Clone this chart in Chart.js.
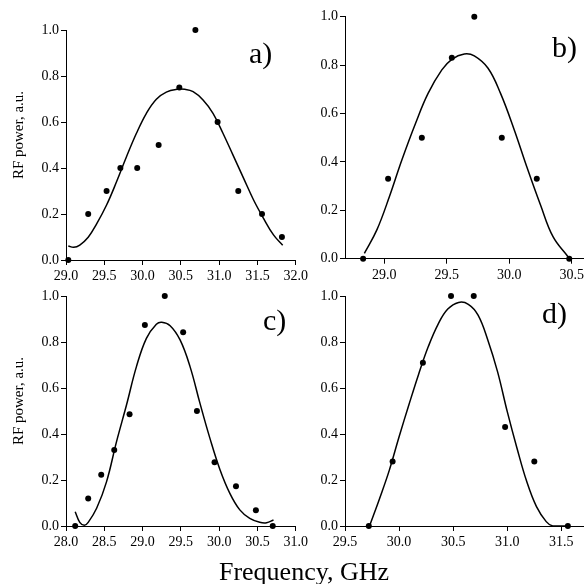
<!DOCTYPE html>
<html>
<head>
<meta charset="utf-8">
<script src="https://cdn.jsdelivr.net/npm/chart.js@4.4.1/dist/chart.umd.min.js"></script>
<style>
  html, body { margin: 0; padding: 0; background: #fff; overflow: hidden; }
  #wrap { position: relative; width: 587px; height: 584px; }
  #wrap canvas { position: absolute; left: 0; top: 0; }
</style>
</head>
<body>
<div id="wrap">
  <canvas id="chartA" width="587" height="584"></canvas>
  <canvas id="chartB" width="587" height="584"></canvas>
  <canvas id="chartC" width="587" height="584"></canvas>
  <canvas id="chartD" width="587" height="584"></canvas>
</div>
<script>
// measured points, panel a)
const freqA = [29.03, 29.29, 29.53, 29.71, 29.93, 30.21, 30.48, 30.69, 30.98, 31.25, 31.56, 31.82];
const powerA = [0.0, 0.2, 0.3, 0.4, 0.4, 0.5, 0.75, 1.0, 0.6, 0.3, 0.2, 0.1];
// fitted curve, panel a)
const fitFreqA = [29.03, 29.10, 29.18, 29.29, 29.40, 29.53, 29.66, 29.79, 29.92, 30.05, 30.18, 30.31, 30.45, 30.55, 30.66, 30.79, 30.92, 31.05, 31.18, 31.32, 31.45, 31.58, 31.71, 31.83];
const fitPowerA = [0.061, 0.055, 0.065, 0.099, 0.157, 0.239, 0.34, 0.449, 0.551, 0.638, 0.699, 0.73, 0.742, 0.742, 0.732, 0.696, 0.638, 0.551, 0.457, 0.355, 0.261, 0.181, 0.109, 0.064];

// panel b)
const freqB = [28.83, 29.03, 29.30, 29.54, 29.72, 29.94, 30.22, 30.48];
const powerB = [0.0, 0.33, 0.5, 0.83, 1.0, 0.5, 0.33, 0.0];
const fitFreqB = [28.84, 28.94, 29.04, 29.14, 29.25, 29.35, 29.46, 29.54, 29.64, 29.72, 29.83, 29.93, 30.04, 30.14, 30.25, 30.35, 30.47];
const fitPowerB = [0.022, 0.119, 0.256, 0.408, 0.56, 0.683, 0.78, 0.824, 0.846, 0.838, 0.787, 0.683, 0.532, 0.38, 0.222, 0.091, 0.008];

// panel c)
const freqC = [28.12, 28.29, 28.46, 28.63, 28.83, 29.03, 29.29, 29.53, 29.71, 29.94, 30.22, 30.48, 30.70];
const powerC = [0.0, 0.12, 0.223, 0.33, 0.486, 0.874, 1.0, 0.842, 0.5, 0.277, 0.173, 0.068, 0.0];
const fitFreqC = [28.12, 28.18, 28.24, 28.29, 28.40, 28.53, 28.66, 28.79, 28.92, 29.05, 29.18, 29.25, 29.36, 29.49, 29.62, 29.75, 29.88, 30.01, 30.14, 30.27, 30.40, 30.53, 30.62, 30.71];
const fitPowerC = [0.062, 0.016, 0.003, 0.016, 0.077, 0.193, 0.367, 0.526, 0.693, 0.816, 0.877, 0.886, 0.871, 0.809, 0.693, 0.533, 0.381, 0.246, 0.142, 0.07, 0.033, 0.016, 0.014, 0.026];

// panel d)
const freqD = [29.72, 29.94, 30.22, 30.48, 30.69, 30.98, 31.25, 31.56];
const powerD = [0.0, 0.28, 0.71, 1.0, 1.0, 0.43, 0.28, 0.0];
const fitFreqD = [29.73, 29.82, 29.91, 30.00, 30.09, 30.18, 30.27, 30.36, 30.45, 30.55, 30.64, 30.73, 30.82, 30.91, 31.00, 31.09, 31.18, 31.27, 31.36, 31.42, 31.55];
const fitPowerD = [0.004, 0.12, 0.243, 0.388, 0.526, 0.659, 0.78, 0.877, 0.943, 0.972, 0.964, 0.917, 0.809, 0.671, 0.497, 0.338, 0.193, 0.084, 0.019, 0.0, 0.0];

const yTicks = [0, 0.2, 0.4, 0.6, 0.8, 1.0];
const yTitle = 'RF power, a.u.';
const xTitle = 'Frequency, GHz';

const FONT = '"Liberation Serif", "Times New Roman", serif';

// draws free text (panel letters, axis titles) onto a chart
const panelText = {
    id: 'panelText',
    afterDraw(chart, args, opts) {
        const ctx = chart.ctx;
        (opts.items || []).forEach(item => {
            ctx.save();
            ctx.font = `${item.size}px ${FONT}`;
            ctx.fillStyle = '#000';
            ctx.textAlign = item.align || 'left';
            ctx.textBaseline = item.baseline || 'alphabetic';
            ctx.translate(item.x, item.y);
            if (item.rotate) {
                ctx.rotate(item.rotate);
            }
            ctx.fillText(item.text, 0, 0);
            ctx.restore();
        });
    }
};

const PanelCharts = {
    canvasW: 587,
    canvasH: 584,
    yAxisW: 40,
    xAxisH: 30,

    toPoints(xs, ys) {
        return xs.map((x, i) => ({ x: x, y: ys[i] }));
    },

    /**
     * @param {string} chartId
     * @param {Object} cfg  data arrays, axis range, plot area and texts
     * @returns {Chart}
     */
    createPanel(chartId, cfg) {
        const ctx = document.getElementById(chartId).getContext('2d');
        const area = cfg.area;
        const self = this;

        return new Chart(ctx, {
            type: 'scatter',
            data: {
                datasets: [{
                    data: this.toPoints(cfg.freq, cfg.power),
                    showLine: false,
                    pointRadius: 3,
                    pointBackgroundColor: '#000',
                    pointBorderWidth: 0,
                    clip: false
                }, {
                    data: this.toPoints(cfg.fitFreq, cfg.fitPower),
                    showLine: true,
                    pointRadius: 0,
                    borderColor: '#000',
                    borderWidth: 1.5,
                    tension: 0.4,
                    clip: false
                }]
            },
            options: {
                responsive: false,
                animation: false,
                events: [],
                layout: {
                    padding: {
                        left: area.left - self.yAxisW,
                        right: self.canvasW - area.right,
                        top: area.top,
                        bottom: self.canvasH - self.xAxisH - area.bottom
                    }
                },
                plugins: {
                    legend: { display: false },
                    tooltip: { enabled: false },
                    panelText: { items: cfg.texts }
                },
                scales: {
                    x: {
                        type: 'linear',
                        min: cfg.xMin,
                        max: cfg.xMax,
                        ticks: {
                            stepSize: 0.5,
                            includeBounds: false,
                            autoSkip: false,
                            maxRotation: 0,
                            padding: 3,
                            color: '#000',
                            font: { family: FONT, size: 14 },
                            callback: v => v.toFixed(1)
                        },
                        grid: {
                            drawOnChartArea: false,
                            drawTicks: true,
                            tickLength: 5,
                            color: '#000',
                            lineWidth: 1
                        },
                        border: { display: true, color: '#000', width: 1 },
                        afterFit(scale) {
                            scale.height = self.xAxisH;
                            scale.paddingLeft = 0;
                            scale.paddingRight = 0;
                        }
                    },
                    y: {
                        type: 'linear',
                        min: yTicks[0],
                        max: yTicks[yTicks.length - 1],
                        afterBuildTicks(scale) {
                            scale.ticks = yTicks.map(v => ({ value: v }));
                        },
                        ticks: {
                            padding: 2,
                            color: '#000',
                            font: { family: FONT, size: 14 },
                            callback: v => v.toFixed(1)
                        },
                        grid: {
                            drawOnChartArea: false,
                            drawTicks: true,
                            tickLength: 5,
                            color: '#000',
                            lineWidth: 1
                        },
                        border: { display: true, color: '#000', width: 1 },
                        afterFit(scale) {
                            scale.width = self.yAxisW;
                            scale.paddingTop = 0;
                            scale.paddingBottom = 0;
                        }
                    }
                }
            },
            plugins: [panelText]
        });
    }
};

const letterSize = 30;

PanelCharts.createPanel('chartA', {
    freq: freqA, power: powerA, fitFreq: fitFreqA, fitPower: fitPowerA,
    xMin: 29.0, xMax: 32.0,
    area: { left: 66, right: 295.7, top: 30, bottom: 260 },
    texts: [
        { text: 'a)', x: 249, y: 63, size: letterSize },
        { text: yTitle, x: 19, y: 135, size: 15, align: 'center', baseline: 'middle', rotate: -Math.PI / 2 }
    ]
});

PanelCharts.createPanel('chartB', {
    freq: freqB, power: powerB, fitFreq: fitFreqB, fitPower: fitPowerB,
    xMin: 28.685, xMax: 30.59,
    area: { left: 345, right: 587, top: 16.7, bottom: 258.7 },
    texts: [
        { text: 'b)', x: 552, y: 57, size: letterSize }
    ]
});

PanelCharts.createPanel('chartC', {
    freq: freqC, power: powerC, fitFreq: fitFreqC, fitPower: fitPowerC,
    xMin: 28.0, xMax: 31.0,
    area: { left: 66, right: 295.7, top: 296, bottom: 526 },
    texts: [
        { text: 'c)', x: 263, y: 330, size: letterSize },
        { text: yTitle, x: 19, y: 401, size: 15, align: 'center', baseline: 'middle', rotate: -Math.PI / 2 },
        { text: xTitle, x: 304, y: 580, size: 26, align: 'center' }
    ]
});

PanelCharts.createPanel('chartD', {
    freq: freqD, power: powerD, fitFreq: fitFreqD, fitPower: fitPowerD,
    xMin: 29.5, xMax: 31.7,
    area: { left: 345, right: 587, top: 296, bottom: 526 },
    texts: [
        { text: 'd)', x: 542, y: 323, size: letterSize }
    ]
});
</script>
</body>
</html>
